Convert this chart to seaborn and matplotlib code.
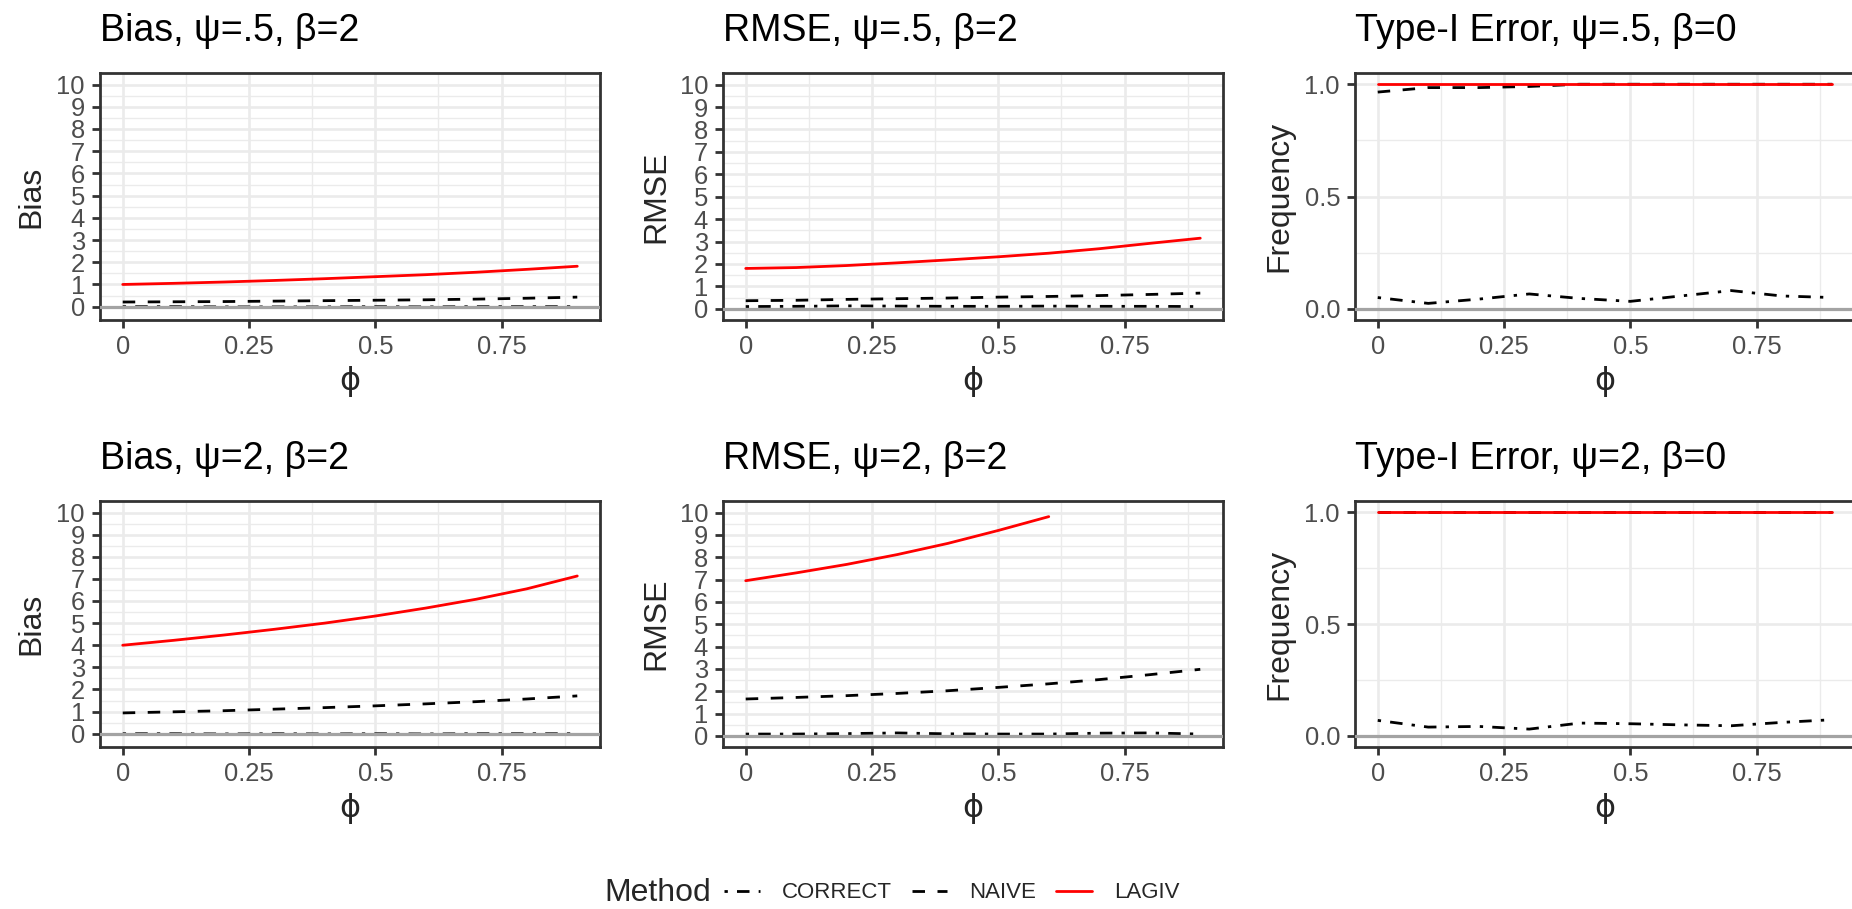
import numpy as np
import pandas as pd
import matplotlib
matplotlib.use("Agg")
import matplotlib.pyplot as plt
import seaborn as sns
from matplotlib.lines import Line2D

# x values (phi) shared by every panel
phi = [0.0, 0.1, 0.2, 0.3, 0.4, 0.5, 0.6, 0.7, 0.8, 0.9]
methods = ["CORRECT", "NAIVE", "LAGIV"]

# Bias, psi=.5, beta=2
bias_a_correct = [0.00, 0.00, -0.01, -0.01, -0.01, 0.00, -0.01, 0.00, 0.00, 0.00]
bias_a_naive = [0.21, 0.22, 0.23, 0.25, 0.27, 0.29, 0.31, 0.34, 0.38, 0.43]
bias_a_lagiv = [1.00, 1.05, 1.11, 1.18, 1.26, 1.35, 1.44, 1.55, 1.68, 1.82]

# RMSE, psi=.5, beta=2
rmse_a_correct = [0.10, 0.11, 0.13, 0.12, 0.11, 0.11, 0.12, 0.11, 0.11, 0.10]
rmse_a_naive = [0.36, 0.38, 0.42, 0.45, 0.48, 0.52, 0.55, 0.59, 0.64, 0.70]
rmse_a_lagiv = [1.80, 1.84, 1.93, 2.05, 2.18, 2.32, 2.48, 2.68, 2.92, 3.15]

# Type-I error, psi=.5, beta=0
type1_a_correct = [0.050, 0.024, 0.043, 0.066, 0.046, 0.033, 0.057, 0.081, 0.057, 0.050]
type1_a_naive = [0.965, 0.985, 0.985, 0.990, 1.0, 1.0, 1.0, 1.0, 1.0, 1.0]
type1_a_lagiv = [1.0, 1.0, 1.0, 1.0, 1.0, 1.0, 1.0, 1.0, 1.0, 1.0]

# Bias, psi=2, beta=2
bias_b_correct = [0.00, 0.00, -0.01, 0.00, -0.01, 0.00, -0.01, 0.00, 0.00, 0.00]
bias_b_naive = [0.94, 0.99, 1.04, 1.11, 1.18, 1.26, 1.35, 1.45, 1.57, 1.71]
bias_b_lagiv = [4.00, 4.22, 4.46, 4.72, 5.00, 5.32, 5.68, 6.08, 6.55, 7.13]

# RMSE, psi=2, beta=2 (LAGIV above 10 falls outside the scale)
rmse_b_correct = [0.08, 0.08, 0.10, 0.13, 0.09, 0.08, 0.08, 0.12, 0.13, 0.08]
rmse_b_naive = [1.65, 1.72, 1.80, 1.90, 2.02, 2.17, 2.33, 2.52, 2.74, 2.98]
rmse_b_lagiv = [6.95, 7.30, 7.68, 8.12, 8.62, 9.20, 9.82, np.nan, np.nan, np.nan]

# Type-I error, psi=2, beta=0
type1_b_correct = [0.069, 0.039, 0.042, 0.030, 0.057, 0.054, 0.049, 0.045, 0.060, 0.072]
type1_b_naive = [1.0, 1.0, 1.0, 1.0, 1.0, 1.0, 1.0, 1.0, 1.0, 1.0]
type1_b_lagiv = [1.0, 1.0, 1.0, 1.0, 1.0, 1.0, 1.0, 1.0, 1.0, 1.0]

titles = ["Bias, ψ=.5, β=2", "RMSE, ψ=.5, β=2", "Type-I Error, ψ=.5, β=0",
          "Bias, ψ=2, β=2", "RMSE, ψ=2, β=2", "Type-I Error, ψ=2, β=0"]
ylabels = ["Bias", "RMSE", "Frequency", "Bias", "RMSE", "Frequency"]
series = [
    (bias_a_correct, bias_a_naive, bias_a_lagiv),
    (rmse_a_correct, rmse_a_naive, rmse_a_lagiv),
    (type1_a_correct, type1_a_naive, type1_a_lagiv),
    (bias_b_correct, bias_b_naive, bias_b_lagiv),
    (rmse_b_correct, rmse_b_naive, rmse_b_lagiv),
    (type1_b_correct, type1_b_naive, type1_b_lagiv),
]

palette = {"CORRECT": "black", "NAIVE": "black", "LAGIV": "#FF0000"}
dashes = {"CORRECT": (1.2, 3.3, 4.5, 3.3), "NAIVE": (4.5, 4.5), "LAGIV": ""}

sns.set_theme(style="white")
plt.rcParams["font.family"] = ["Liberation Sans", "DejaVu Sans"]

W, H = 1852, 909
fig = plt.figure(figsize=(W / 100, H / 100), dpi=100)

col_left = [100, 723, 1355]
row_top = [73, 501]
row_bot = [320, 747]
pw = 500
ylab_x = [-0.108, -0.104, -0.122]

for i in range(6):
    r, c = divmod(i, 3)
    ax = fig.add_axes([col_left[c] / W, 1 - row_bot[r] / H, pw / W,
                       (row_bot[r] - row_top[r]) / H])
    df = pd.DataFrame({
        "phi": phi * 3,
        "value": list(series[i][0]) + list(series[i][1]) + list(series[i][2]),
        "Method": [m for m in methods for _ in phi],
    })
    sns.lineplot(data=df, x="phi", y="value", hue="Method", style="Method",
                 hue_order=methods, style_order=methods, palette=palette,
                 dashes=dashes, estimator=None, linewidth=2.0, legend=False, ax=ax)
    ax.axhline(0, color="#A3A3A3", linewidth=2.3, zorder=5)

    ax.set_xlim(-0.045, 0.945)
    ax.set_xticks([0, 0.25, 0.5, 0.75])
    ax.set_xticklabels(["0", "0.25", "0.5", "0.75"])
    ax.set_xticks([0.125, 0.375, 0.625, 0.875], minor=True)
    if c == 2:
        ax.set_ylim(-0.05, 1.05)
        ax.set_yticks([0, 0.5, 1.0])
        ax.set_yticklabels(["0.0", "0.5", "1.0"])
        ax.set_yticks([0.25, 0.75], minor=True)
    else:
        ax.set_ylim(-0.6 if c == 0 else -0.5, 10.52)
        ax.set_yticks(range(0, 11))
        ax.set_yticks(np.arange(0.5, 10.5, 1.0), minor=True)

    ax.grid(which="major", color="#EBEBEB", linewidth=1.9)
    ax.grid(which="minor", color="#EBEBEB", linewidth=1.0)
    ax.set_axisbelow(True)
    for s in ax.spines.values():
        s.set_color("#333333")
        s.set_linewidth(2.0)
    ax.tick_params(which="major", direction="out", length=5.8, width=2.0,
                   color="#333333", labelsize=18.4, labelcolor="#4D4D4D", pad=5)
    ax.tick_params(which="minor", length=0)
    ax.tick_params(left=True, bottom=True)

    ax.set_title(titles[i], loc="left", fontsize=27, pad=23, color="black")
    ax.set_xlabel("ϕ", fontsize=23, labelpad=5, family=["DejaVu Sans"])
    ax.set_ylabel(ylabels[i], fontsize=23)
    ax.yaxis.set_label_coords(ylab_x[c], 0.5)

# legend along the bottom
handles = [Line2D([], [], color=palette[m], linewidth=2.0,
                  linestyle=(0, dashes[m]) if dashes[m] else "-") for m in methods]
fig.text(604 / W, 1 - 893 / H, "Method", fontsize=23, va="center", ha="left")
fig.legend(handles, methods, loc="center left", bbox_to_anchor=(724 / W, 1 - 893 / H),
           ncol=3, frameon=False, fontsize=16, handlelength=1.6,
           handletextpad=1.0, columnspacing=0.9, borderpad=0, borderaxespad=0)

fig.savefig("out.png", dpi=100, facecolor="white")
